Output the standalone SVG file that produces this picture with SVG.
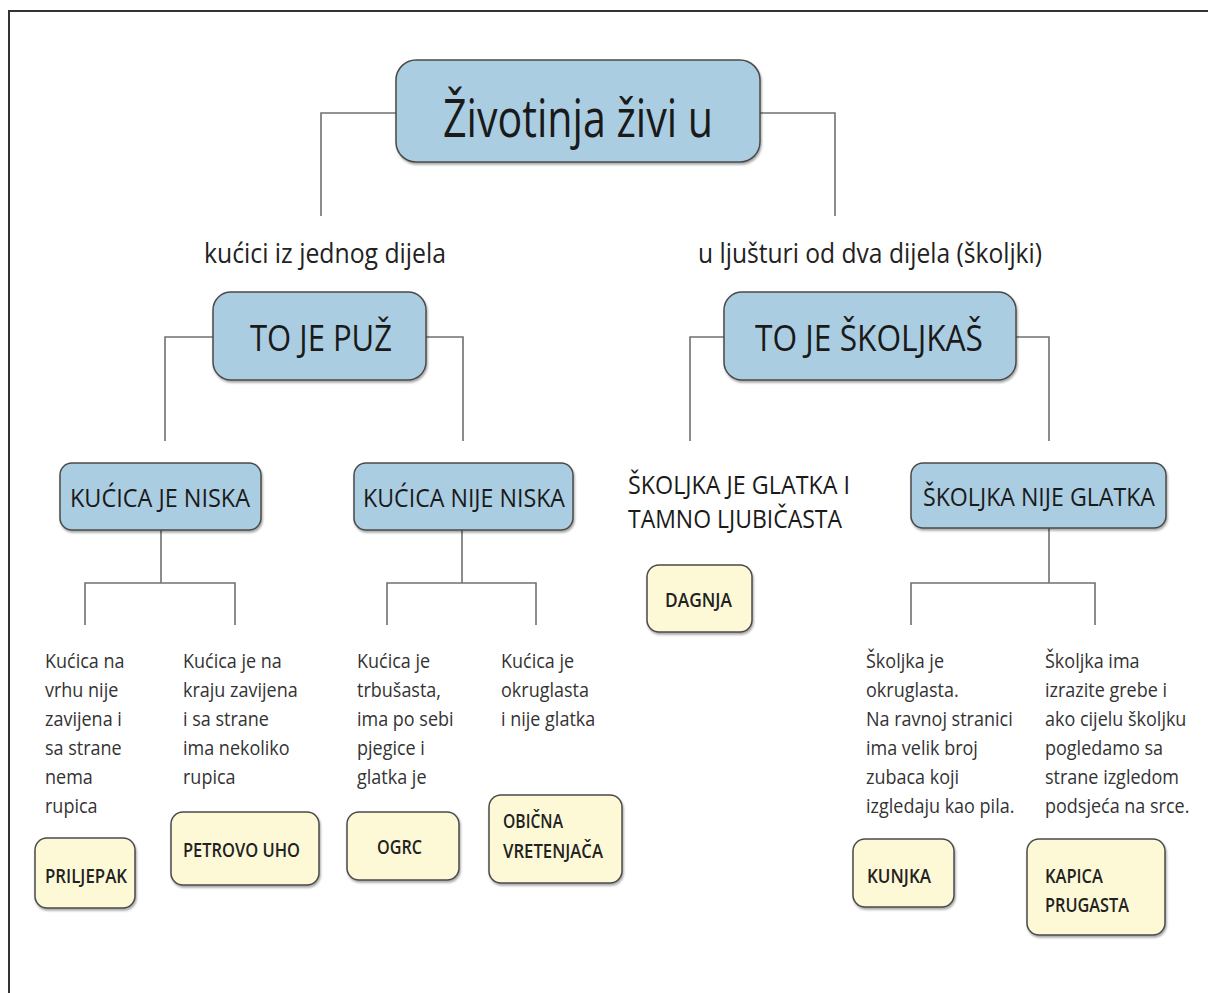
<svg xmlns="http://www.w3.org/2000/svg" width="1208" height="993" viewBox="0 0 1208 993">
<style>
text{font-family:"Open Sans","Noto Sans","DejaVu Sans",sans-serif;fill:#1a1a1a}
.blue{fill:#abcde1;stroke:#4a4a4a;stroke-width:1.5}
.yel{fill:#fdf9d6;stroke:#4a4a4a;stroke-width:1.5}
.conn{fill:none;stroke:#707070;stroke-width:1.6}
.d{font-size:20px;fill:#333}
.y{font-size:19px;font-weight:600;fill:#222}
.h2{font-size:37px}
.h3{font-size:25px}
.lbl{font-size:28px;fill:#222}
</style>
<defs>
<filter id="sh" x="-10%" y="-10%" width="120%" height="130%">
<feDropShadow dx="1" dy="2" stdDeviation="1.2" flood-color="#000" flood-opacity="0.35"/>
</filter>
</defs>
<rect width="1208" height="993" fill="#fff"/>
<path d="M9,993 V11 H1208" fill="none" stroke="#333" stroke-width="2"/>
<g id="connectors">
<path class="conn" d="M396,113 H321 V216"/>
<path class="conn" d="M760,113 H835 V216"/>
<path class="conn" d="M213,337 H165 V441"/>
<path class="conn" d="M426,337 H463 V441"/>
<path class="conn" d="M724,337 H690 V441"/>
<path class="conn" d="M1016,337 H1049 V441"/>
<path class="conn" d="M161,530 V583 M85,625 V583 H235 V625"/>
<path class="conn" d="M462,530 V583 M387,625 V583 H536 V625"/>
<path class="conn" d="M1049,528 V583 M911,625 V583 H1095 V625"/>
</g>
<g id="root">
<rect class="blue" filter="url(#sh)" x="396" y="60" width="364" height="102" rx="20"/>
<text x="578" y="137" font-size="53" text-anchor="middle" textLength="270" lengthAdjust="spacingAndGlyphs">Životinja živi u</text>
</g>
<g id="lbl-left"><text class="lbl" x="325" y="263" text-anchor="middle" textLength="242" lengthAdjust="spacingAndGlyphs">kućici iz jednog dijela</text></g>
<g id="lbl-right"><text class="lbl" x="870" y="263" text-anchor="middle" textLength="344" lengthAdjust="spacingAndGlyphs">u ljušturi od dva dijela (školjki)</text></g>
<g id="puz">
<rect class="blue" filter="url(#sh)" x="213" y="292" width="213" height="88" rx="18"/>
<text class="h2" x="321" y="351" text-anchor="middle" textLength="142" lengthAdjust="spacingAndGlyphs">TO JE PUŽ</text>
</g>
<g id="skoljkas">
<rect class="blue" filter="url(#sh)" x="724" y="292" width="292" height="88" rx="18"/>
<text class="h2" x="869" y="351" text-anchor="middle" textLength="228" lengthAdjust="spacingAndGlyphs">TO JE ŠKOLJKAŠ</text>
</g>
<g id="niska">
<rect class="blue" filter="url(#sh)" x="60" y="463" width="201" height="67" rx="12"/>
<text class="h3" x="160" y="507" text-anchor="middle" textLength="180" lengthAdjust="spacingAndGlyphs">KUĆICA JE NISKA</text>
</g>
<g id="nije-niska">
<rect class="blue" filter="url(#sh)" x="354" y="463" width="219" height="67" rx="12"/>
<text class="h3" x="464" y="507" text-anchor="middle" textLength="202" lengthAdjust="spacingAndGlyphs">KUĆICA NIJE NISKA</text>
</g>
<g id="glatka">
<text class="h3" x="628" y="494" textLength="222" lengthAdjust="spacingAndGlyphs">ŠKOLJKA JE GLATKA I</text>
<text class="h3" x="628" y="528" textLength="214" lengthAdjust="spacingAndGlyphs">TAMNO LJUBIČASTA</text>
</g>
<g id="nije-glatka">
<rect class="blue" filter="url(#sh)" x="911" y="463" width="255" height="65" rx="12"/>
<text class="h3" x="1039" y="506" text-anchor="middle" textLength="232" lengthAdjust="spacingAndGlyphs">ŠKOLJKA NIJE GLATKA</text>
</g>
<g id="dagnja">
<rect class="yel" filter="url(#sh)" x="647" y="565" width="105" height="67" rx="12"/>
<text class="y" x="665" y="607" textLength="67" lengthAdjust="spacingAndGlyphs">DAGNJA</text>
</g>
<g id="desc1" transform="translate(45 0) scale(0.9 1)">
<text class="d" x="0" y="668">Kućica na</text>
<text class="d" x="0" y="697">vrhu nije</text>
<text class="d" x="0" y="726">zavijena i</text>
<text class="d" x="0" y="755">sa strane</text>
<text class="d" x="0" y="784">nema</text>
<text class="d" x="0" y="813">rupica</text>
</g>
<g id="desc2" transform="translate(183 0) scale(0.9 1)">
<text class="d" x="0" y="668">Kućica je na</text>
<text class="d" x="0" y="697">kraju zavijena</text>
<text class="d" x="0" y="726">i sa strane</text>
<text class="d" x="0" y="755">ima nekoliko</text>
<text class="d" x="0" y="784">rupica</text>
</g>
<g id="desc3" transform="translate(357 0) scale(0.9 1)">
<text class="d" x="0" y="668">Kućica je</text>
<text class="d" x="0" y="697">trbušasta,</text>
<text class="d" x="0" y="726">ima po sebi</text>
<text class="d" x="0" y="755">pjegice i</text>
<text class="d" x="0" y="784">glatka je</text>
</g>
<g id="desc4" transform="translate(501 0) scale(0.9 1)">
<text class="d" x="0" y="668">Kućica je</text>
<text class="d" x="0" y="697">okruglasta</text>
<text class="d" x="0" y="726">i nije glatka</text>
</g>
<g id="desc5" transform="translate(866 0) scale(0.9 1)">
<text class="d" x="0" y="668">Školjka je</text>
<text class="d" x="0" y="697">okruglasta.</text>
<text class="d" x="0" y="726">Na ravnoj stranici</text>
<text class="d" x="0" y="755">ima velik broj</text>
<text class="d" x="0" y="784">zubaca koji</text>
<text class="d" x="0" y="813">izgledaju kao pila.</text>
</g>
<g id="desc6" transform="translate(1045 0) scale(0.9 1)">
<text class="d" x="0" y="668">Školjka ima</text>
<text class="d" x="0" y="697">izrazite grebe i</text>
<text class="d" x="0" y="726">ako cijelu školjku</text>
<text class="d" x="0" y="755">pogledamo sa</text>
<text class="d" x="0" y="784">strane izgledom</text>
<text class="d" x="0" y="813">podsjeća na srce.</text>
</g>
<g id="priljepak">
<rect class="yel" filter="url(#sh)" x="35" y="838" width="100" height="70" rx="12"/>
<text class="y" x="45" y="883" textLength="82" lengthAdjust="spacingAndGlyphs">PRILJEPAK</text>
</g>
<g id="petrovo-uho">
<rect class="yel" filter="url(#sh)" x="171" y="812" width="148" height="73" rx="12"/>
<text class="y" x="183" y="857" textLength="117" lengthAdjust="spacingAndGlyphs">PETROVO UHO</text>
</g>
<g id="ogrc">
<rect class="yel" filter="url(#sh)" x="347" y="812" width="112" height="68" rx="12"/>
<text class="y" x="377" y="854" textLength="45" lengthAdjust="spacingAndGlyphs">OGRC</text>
</g>
<g id="vretenjaca">
<rect class="yel" filter="url(#sh)" x="489" y="795" width="133" height="88" rx="12"/>
<text class="y" x="503" y="828" textLength="60" lengthAdjust="spacingAndGlyphs">OBIČNA</text>
<text class="y" x="503" y="858" textLength="100" lengthAdjust="spacingAndGlyphs">VRETENJAČA</text>
</g>
<g id="kunjka">
<rect class="yel" filter="url(#sh)" x="853" y="839" width="101" height="68" rx="12"/>
<text class="y" x="867" y="883" textLength="64" lengthAdjust="spacingAndGlyphs">KUNJKA</text>
</g>
<g id="kapica">
<rect class="yel" filter="url(#sh)" x="1027" y="839" width="138" height="96" rx="12"/>
<text class="y" x="1045" y="883" textLength="58" lengthAdjust="spacingAndGlyphs">KAPICA</text>
<text class="y" x="1045" y="912" textLength="84" lengthAdjust="spacingAndGlyphs">PRUGASTA</text>
</g>
</svg>
